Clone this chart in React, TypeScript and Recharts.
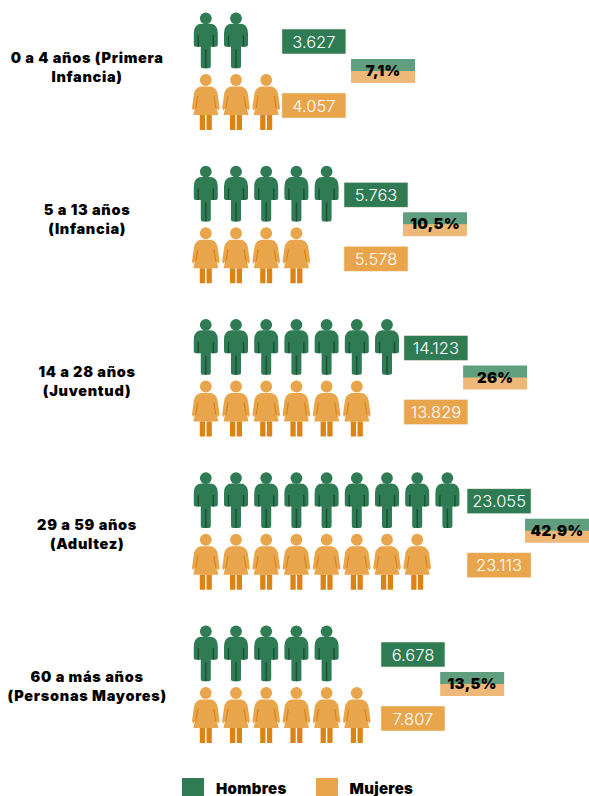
import { Legend, Scatter, ScatterChart, XAxis, YAxis } from "recharts";

const groupLines = [
  ["0 a 4 años (Primera", "Infancia)"],
  ["5 a 13 años", "(Infancia)"],
  ["14 a 28 años", "(Juventud)"],
  ["29 a 59 años", "(Adultez)"],
  ["60 a más años", "(Personas Mayores)"],
];
const menIcons = [2, 5, 7, 9, 5];
const womenIcons = [3, 4, 6, 8, 6];
const menTotals = ["3.627", "5.763", "14.123", "23.055", "6.678"];
const womenTotals = ["4.057", "5.578", "13.829", "23.113", "7.807"];
const shares = ["7,1%", "10,5%", "26%", "42,9%", "13,5%"];

// layout, in axis units: one x unit is an icon slot, one y unit is an age group
const W = 589;
const H = 796;
const SLOT = 30.2;
const ROW = 153.25;
const X0 = 205.8;
const Y0 = 40.3;
const WOMEN_DY = 61.7 / ROW;
const BOX_W = 64;
const BOX_H = 25;
const totalSlots = [3.58, 5.635, 7.62, 9.71, 6.86];
const shareSlots = [5.87, 7.59, 9.58, 11.63, 8.82];
const labelDy = [0.147, 0.14, 0.198, 0.194, 0.188];

const GREEN = "#2E7B54";
const GREEN_DARK = "#1E4D36";
const ORANGE = "#E8A54B";
const ORANGE_DARK = "#DD8314";
const FONT = "Inter, sans-serif";

const xDomain = [-X0 / SLOT, (W - X0) / SLOT];
const yDomain = [-Y0 / ROW, (H - Y0) / ROW];

const repeat = (counts: number[], dy: number) =>
  counts.flatMap((n, row) => Array.from({ length: n }, (_, i) => ({ x: i, y: row + dy })));

const menPoints = repeat(menIcons, 0);
const womenPoints = repeat(womenIcons, WOMEN_DY);
const menBoxes = menTotals.map((label, row) => ({ x: totalSlots[row], y: row + 1.2 / ROW, label }));
const womenBoxes = womenTotals.map((label, row) => ({ x: totalSlots[row], y: row + 65.2 / ROW, label }));
const shareBoxes = shares.map((label, row) => ({ x: shareSlots[row], y: row + 30.7 / ROW, label }));
const groupLabels = groupLines.map((lines, row) => ({ x: -3.93, y: row + labelDy[row], lines }));

function ManIcon({ cx, cy }: any) {
  return (
    <g transform={`translate(${cx} ${cy})`}>
      <circle cx={0} cy={-22} r={5.9} fill={GREEN} />
      <path
        d="M-12 -7 Q-12 -16.5 -4 -16.5 L4 -16.5 Q12 -16.5 12 -7 L12 4.5 Q12 6.5 10 6.5 L5 6.5 L5 26 Q5 28 3 28 L-3 28 Q-5 28 -5 26 L-5 6.5 L-10 6.5 Q-12 6.5 -12 4.5 Z"
        fill={GREEN}
      />
      <path d="M-7.5 -5 V6.5 M7.5 -5 V6.5 M0 9 V28" stroke={GREEN_DARK} strokeWidth={1.4} fill="none" />
    </g>
  );
}

function WomanIcon({ cx, cy }: any) {
  return (
    <g transform={`translate(${cx} ${cy})`}>
      <circle cx={0} cy={-22} r={5.9} fill={ORANGE} />
      <path
        d="M-5 -15.5 L5 -15.5 Q11.5 -14 12 -7 L13.8 6 L12.8 8.5 L11 6.5 L12.5 13 L-12.5 13 L-11 6.5 L-12.8 8.5 L-13.8 6 L-12 -7 Q-11.5 -14 -5 -15.5 Z"
        fill={ORANGE}
      />
      <path d="M-8 -6 L-10 6 M8 -6 L10 6" stroke={ORANGE_DARK} strokeWidth={1.2} fill="none" />
      <path d="M-6 13 H-0.7 V28 H-6 Z M0.7 13 H6 V28 H0.7 Z" fill={ORANGE_DARK} />
    </g>
  );
}

function TotalBox({ cx, cy, payload, fill }: any) {
  return (
    <g>
      <rect
        x={cx - BOX_W / 2}
        y={cy - BOX_H / 2}
        width={BOX_W}
        height={BOX_H}
        fill={fill}
        stroke="#F3E9DC"
        strokeWidth={0.6}
      />
      <text
        x={cx}
        y={cy + 6}
        textAnchor="middle"
        fontFamily={FONT}
        fontWeight={300}
        fontSize={16.5}
        fill="#FFFFFF"
      >
        {payload.label}
      </text>
    </g>
  );
}

function ShareBox({ cx, cy, payload }: any) {
  return (
    <g>
      <rect x={cx - BOX_W / 2} y={cy - 12} width={BOX_W} height={12.5} fill="#5F9F7F" />
      <rect x={cx - BOX_W / 2} y={cy} width={BOX_W} height={12} fill="#EDB878" />
      <text
        x={cx}
        y={cy + 5}
        textAnchor="middle"
        fontFamily={FONT}
        fontWeight={900}
        fontSize={15}
        letterSpacing={0.3}
        fill="#000000"
      >
        {payload.label}
      </text>
    </g>
  );
}

function GroupLabel({ cx, cy, payload }: any) {
  return (
    <text
      textAnchor="middle"
      fontFamily={FONT}
      fontWeight={900}
      fontSize={14.5}
      letterSpacing={0.7}
      fill="#000000"
    >
      {payload.lines.map((line: string, i: number) => (
        <tspan key={line} x={cx} y={cy + i * 19}>
          {line}
        </tspan>
      ))}
    </text>
  );
}

function KeyRow({ payload }: any) {
  const items = (payload ?? []).filter((p: any) => p.value === "Hombres" || p.value === "Mujeres");
  return (
    <div style={{ display: "flex", height: 24, fontFamily: FONT, fontWeight: 900, fontSize: 15, letterSpacing: 0.3 }}>
      {items.map((p: any) => (
        <div key={p.value} style={{ display: "flex", alignItems: "center", width: 133.5 }}>
          <span style={{ width: 22, height: 20, marginRight: 12, background: p.value === "Hombres" ? GREEN : ORANGE }} />
          <span style={{ color: "#000" }}>{p.value}</span>
        </div>
      ))}
    </div>
  );
}

export default function App() {
  return (
    <div style={{ position: "absolute", left: 0, top: 0, width: W, height: H, background: "#fff", overflow: "hidden" }}>
      <ScatterChart width={W} height={H} margin={{ top: 0, right: 0, bottom: 0, left: 0 }}>
        <XAxis type="number" dataKey="x" domain={xDomain} hide allowDataOverflow />
        <YAxis type="number" dataKey="y" domain={yDomain} reversed hide allowDataOverflow />
        <Legend
          layout="horizontal"
          verticalAlign="middle"
          align="center"
          content={<KeyRow />}
          wrapperStyle={{ position: "absolute", left: 182, top: 776, width: 300, bottom: "auto" }}
        />
        <Scatter name="Hombres" data={menPoints} fill={GREEN} shape={<ManIcon />} isAnimationActive={false} />
        <Scatter name="Mujeres" data={womenPoints} fill={ORANGE} shape={<WomanIcon />} isAnimationActive={false} />
        <Scatter data={menBoxes} legendType="none" fill={GREEN} shape={<TotalBox fill={GREEN} />} isAnimationActive={false} />
        <Scatter data={womenBoxes} legendType="none" fill={ORANGE} shape={<TotalBox fill={ORANGE} />} isAnimationActive={false} />
        <Scatter data={shareBoxes} legendType="none" shape={<ShareBox />} isAnimationActive={false} />
        <Scatter data={groupLabels} legendType="none" shape={<GroupLabel />} isAnimationActive={false} />
      </ScatterChart>
    </div>
  );
}
